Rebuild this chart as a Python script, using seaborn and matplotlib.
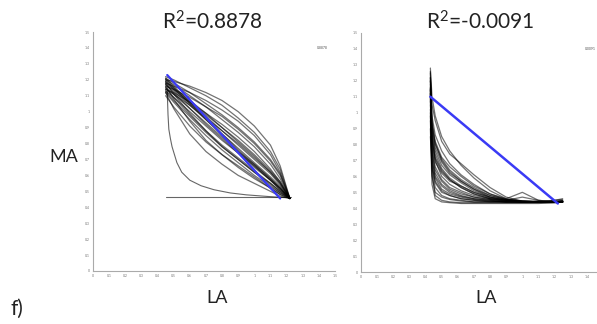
import numpy as np
import pandas as pd
import matplotlib
matplotlib.use("Agg")
import matplotlib.pyplot as plt
import seaborn as sns

sns.set_style("white")
plt.rcParams['font.family'] = ['Lato', 'DejaVu Sans']
plt.rcParams['mathtext.fontset'] = 'custom'
plt.rcParams['mathtext.rm'] = 'Lato'
plt.rcParams['mathtext.it'] = 'Lato'
plt.rcParams['mathtext.default'] = 'rm'

# ---------------- data ----------------
titles = ["R$^{2}$=0.8878", "R$^{2}$=-0.0091"]
corner_labels = ["0.8878", "0.0091"]
tick_vals = [0, 0.1, 0.2, 0.3, 0.4, 0.5, 0.6, 0.7, 0.8, 0.9, 1.0, 1.1, 1.2, 1.3, 1.4, 1.5]
tick_labels = ["0", "0.1", "0.2", "0.3", "0.4", "0.5", "0.6", "0.7", "0.8", "0.9",
               "1", "1.1", "1.2", "1.3", "1.4", "1.5"]

# left panel: loops sampled on a shared LA grid
xl = [0.45, 0.50, 0.60, 0.70, 0.80, 0.90, 1.00, 1.10, 1.16, 1.22]
left_curves = [
    [1.20, 1.19, 1.16, 1.12, 1.07, 1.00, 0.91, 0.79, 0.66, 0.455],
    [1.22, 1.20, 1.15, 1.10, 1.04, 0.96, 0.87, 0.75, 0.64, 0.455],
    [1.18, 1.16, 1.12, 1.07, 1.01, 0.94, 0.85, 0.73, 0.62, 0.455],
    [1.16, 1.14, 1.09, 1.03, 0.97, 0.89, 0.80, 0.69, 0.60, 0.455],
    [1.20, 1.17, 1.10, 1.03, 0.95, 0.87, 0.78, 0.67, 0.58, 0.455],
    [1.14, 1.12, 1.06, 0.99, 0.92, 0.84, 0.75, 0.64, 0.56, 0.460],
    [1.19, 1.15, 1.07, 0.99, 0.90, 0.81, 0.72, 0.62, 0.55, 0.455],
    [1.17, 1.13, 1.04, 0.95, 0.86, 0.77, 0.68, 0.59, 0.53, 0.455],
    [1.21, 1.16, 1.06, 0.96, 0.86, 0.76, 0.67, 0.58, 0.52, 0.455],
    [1.13, 1.09, 1.00, 0.91, 0.82, 0.74, 0.65, 0.57, 0.51, 0.460],
    [1.15, 1.09, 0.98, 0.88, 0.79, 0.71, 0.63, 0.55, 0.50, 0.455],
    [1.18, 1.11, 0.99, 0.88, 0.78, 0.70, 0.62, 0.54, 0.49, 0.455],
    [1.12, 1.06, 0.95, 0.85, 0.76, 0.68, 0.60, 0.53, 0.49, 0.460],
    [1.16, 1.08, 0.94, 0.82, 0.73, 0.65, 0.58, 0.52, 0.48, 0.455],
    [1.12, 1.02, 0.86, 0.75, 0.67, 0.60, 0.55, 0.50, 0.47, 0.455],
    [1.10, 1.03, 0.91, 0.81, 0.73, 0.66, 0.59, 0.52, 0.48, 0.455],
    [1.19, 1.14, 1.05, 0.97, 0.88, 0.79, 0.70, 0.61, 0.54, 0.455],
    [1.14, 1.11, 1.04, 0.96, 0.88, 0.80, 0.71, 0.62, 0.55, 0.455],
    [1.17, 1.12, 1.02, 0.92, 0.83, 0.74, 0.66, 0.57, 0.52, 0.455],
    [1.20, 1.15, 1.05, 0.95, 0.85, 0.75, 0.66, 0.57, 0.51, 0.455],
    [1.15, 1.11, 1.02, 0.93, 0.84, 0.75, 0.67, 0.58, 0.52, 0.455],
    [1.18, 1.14, 1.06, 0.98, 0.90, 0.82, 0.73, 0.63, 0.56, 0.455],
    [1.13, 1.07, 0.97, 0.87, 0.78, 0.70, 0.62, 0.55, 0.50, 0.455],
    [1.21, 1.18, 1.12, 1.05, 0.98, 0.90, 0.81, 0.70, 0.61, 0.455],
]
# odd L-shaped trace and flat trace in the left panel
left_odd_x = [0.46, 0.46, 0.465, 0.47, 0.48, 0.49, 0.505, 0.52, 0.55, 0.60, 0.67, 0.75, 0.85, 0.95, 1.08, 1.20]
left_odd_y = [1.16, 1.10, 0.98, 0.89, 0.83, 0.78, 0.73, 0.68, 0.62, 0.57, 0.535, 0.51, 0.49, 0.478, 0.468, 0.46]
left_flat_x = [0.45, 1.23]
left_flat_y = [0.462, 0.462]
left_fit_x = [0.46, 1.16]
left_fit_y = [1.23, 0.455]

# right panel: L-shaped loops sampled on a shared LA grid
xr = [0.43, 0.44, 0.46, 0.50, 0.55, 0.62, 0.70, 0.80, 0.90, 1.00, 1.10, 1.20, 1.25]
right_curves = [
    [1.20, 1.05, 0.95, 0.82, 0.74, 0.68, 0.61, 0.53, 0.47, 0.445, 0.44, 0.44, 0.445],
    [1.28, 1.10, 0.98, 0.85, 0.76, 0.67, 0.59, 0.51, 0.46, 0.445, 0.44, 0.44, 0.445],
    [1.22, 0.98, 0.86, 0.76, 0.68, 0.61, 0.55, 0.49, 0.455, 0.445, 0.44, 0.445, 0.44],
    [1.15, 0.92, 0.80, 0.71, 0.64, 0.58, 0.53, 0.48, 0.455, 0.445, 0.44, 0.44, 0.445],
    [1.18, 0.88, 0.76, 0.67, 0.61, 0.56, 0.51, 0.47, 0.45, 0.44, 0.44, 0.44, 0.44],
    [1.10, 0.82, 0.71, 0.63, 0.58, 0.53, 0.49, 0.46, 0.45, 0.44, 0.44, 0.445, 0.445],
    [1.25, 0.85, 0.70, 0.60, 0.55, 0.51, 0.48, 0.46, 0.445, 0.44, 0.44, 0.44, 0.44],
    [1.05, 0.78, 0.66, 0.58, 0.53, 0.50, 0.47, 0.455, 0.445, 0.44, 0.445, 0.44, 0.44],
    [1.12, 0.75, 0.62, 0.55, 0.51, 0.48, 0.46, 0.45, 0.44, 0.44, 0.44, 0.44, 0.445],
    [1.20, 0.72, 0.59, 0.52, 0.49, 0.47, 0.455, 0.445, 0.44, 0.44, 0.44, 0.44, 0.44],
    [1.00, 0.68, 0.56, 0.50, 0.48, 0.46, 0.45, 0.44, 0.44, 0.44, 0.44, 0.44, 0.44],
    [1.15, 0.65, 0.53, 0.48, 0.46, 0.45, 0.44, 0.44, 0.44, 0.44, 0.44, 0.44, 0.44],
    [0.95, 0.60, 0.50, 0.47, 0.455, 0.445, 0.44, 0.44, 0.44, 0.44, 0.44, 0.44, 0.44],
    [1.08, 0.90, 0.78, 0.69, 0.62, 0.57, 0.52, 0.47, 0.45, 0.47, 0.45, 0.44, 0.445],
    [1.02, 0.80, 0.69, 0.62, 0.57, 0.54, 0.50, 0.47, 0.455, 0.44, 0.44, 0.45, 0.455],
    [1.26, 0.95, 0.82, 0.72, 0.66, 0.60, 0.54, 0.49, 0.46, 0.50, 0.45, 0.44, 0.445],
    [1.12, 0.86, 0.74, 0.65, 0.59, 0.54, 0.50, 0.465, 0.45, 0.44, 0.44, 0.44, 0.44],
    [0.98, 0.70, 0.60, 0.54, 0.50, 0.475, 0.46, 0.45, 0.44, 0.44, 0.44, 0.44, 0.44],
    [1.16, 0.62, 0.48, 0.45, 0.44, 0.435, 0.435, 0.435, 0.435, 0.435, 0.435, 0.435, 0.44],
    [0.90, 0.55, 0.46, 0.44, 0.435, 0.43, 0.43, 0.43, 0.43, 0.43, 0.43, 0.435, 0.44],
    [1.22, 0.93, 0.81, 0.70, 0.63, 0.57, 0.52, 0.48, 0.455, 0.445, 0.44, 0.45, 0.46],
    [1.07, 0.83, 0.72, 0.64, 0.58, 0.53, 0.49, 0.46, 0.45, 0.445, 0.445, 0.44, 0.445],
    [1.14, 0.76, 0.64, 0.57, 0.52, 0.49, 0.47, 0.455, 0.445, 0.44, 0.44, 0.44, 0.44],
    [0.85, 0.66, 0.57, 0.51, 0.48, 0.46, 0.45, 0.445, 0.44, 0.44, 0.44, 0.44, 0.44],
]
right_fit_x = [0.43, 1.22]
right_fit_y = [1.10, 0.43]


def long_frame(xs, curves):
    rows = []
    for i, ys in enumerate(curves):
        for x, y in zip(xs, ys):
            rows.append((i, x, y))
    return pd.DataFrame(rows, columns=["unit", "LA", "MA"])


# ---------------- figure ----------------
W, H = 597, 324
fig = plt.figure(figsize=(W / 100, H / 100), dpi=100)
axL = fig.add_axes([93 / W, 1 - 271 / H, 242 / W, 239 / H])
axR = fig.add_axes([361 / W, 1 - 272 / H, 242 / W, 239 / H])

line_kw = dict(color="black", alpha=0.55, linewidth=0.9, sort=False)

dfL = long_frame(xl, left_curves)
sns.lineplot(data=dfL, x="LA", y="MA", units="unit", estimator=None, ax=axL, **line_kw)
sns.lineplot(x=left_odd_x, y=left_odd_y, ax=axL, color="black", alpha=0.6, linewidth=0.8, sort=False)
sns.lineplot(x=left_flat_x, y=left_flat_y, ax=axL, color="black", alpha=0.6, linewidth=0.8, sort=False)
sns.lineplot(x=left_fit_x, y=left_fit_y, ax=axL, color="#3a3af5", linewidth=1.6, sort=False)

dfR = long_frame(xr, right_curves)
sns.lineplot(data=dfR, x="LA", y="MA", units="unit", estimator=None, ax=axR, **line_kw)
sns.lineplot(x=right_fit_x, y=right_fit_y, ax=axR, color="#3a3af5", linewidth=1.8, sort=False)

for ax, lab in zip([axL, axR], corner_labels):
    ax.set_xlim(0, 1.5)
    ax.set_ylim(0, 1.5)
    ax.set_xticks(tick_vals)
    ax.set_yticks(tick_vals)
    ax.set_xticklabels(tick_labels)
    ax.set_yticklabels(tick_labels)
    ax.tick_params(axis="both", labelsize=2.5, labelcolor="#777777", direction="inout",
                   length=3, width=0.6, color="#aaaaaa", pad=1)
    ax.set_xlabel("")
    ax.set_ylabel("")
    for s in ["top", "right"]:
        ax.spines[s].set_visible(False)
    for s in ["left", "bottom"]:
        ax.spines[s].set_color("#aaaaaa")
        ax.spines[s].set_linewidth(0.8)
    ax.patch.set_alpha(0)

# the right panel is cropped at the figure edge: hide the label that falls off
axR.set_xticklabels(tick_labels[:-1] + [""])

fig.text(322 / W, 1 - 48 / H, corner_labels[0], fontsize=2.5, color="#555555", ha="center", va="center")
fig.text(590 / W, 1 - 49 / H, corner_labels[1], fontsize=2.5, color="#555555", ha="center", va="center")

fig.text(212 / W, 1 - 30 / H, titles[0], fontsize=15, ha="center", va="baseline", color="#222222")
fig.text(480 / W, 1 - 30 / H, titles[1], fontsize=15, ha="center", va="baseline", color="#222222")
fig.text(64 / W, 1 - 157 / H, "MA", fontsize=13, ha="center", va="center", color="#222222")
fig.text(217 / W, 1 - 298 / H, "LA", fontsize=13, ha="center", va="center", color="#222222")
fig.text(486 / W, 1 - 298 / H, "LA", fontsize=13, ha="center", va="center", color="#222222")
fig.text(17 / W, 1 - 309 / H, "f)", fontsize=15, ha="center", va="center", color="#222222")

fig.savefig("out.png", dpi=100)
